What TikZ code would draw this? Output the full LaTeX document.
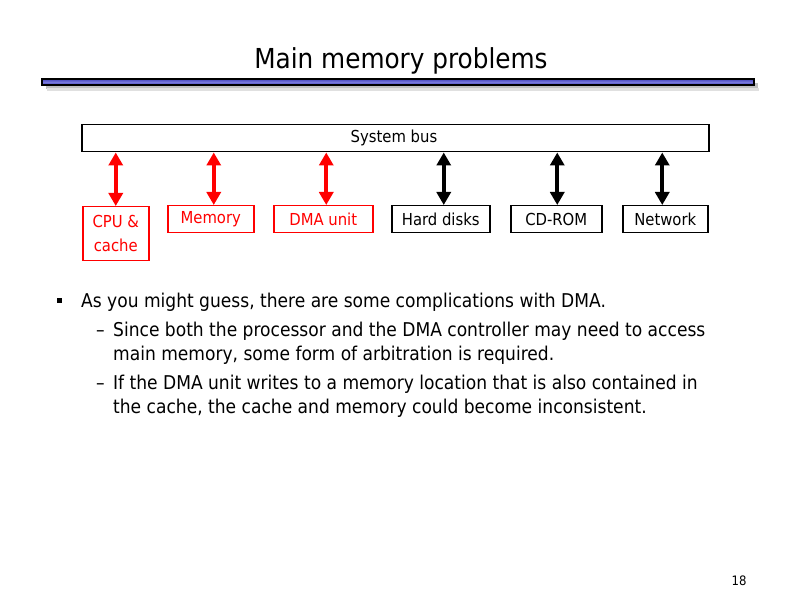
\documentclass[tikz,border=0pt]{standalone}
\usepackage{fontspec}
\setmainfont{DejaVu Sans Condensed}
\usetikzlibrary{arrows.meta,shadows}
\definecolor{barblue}{RGB}{70,70,190}
\definecolor{barlight}{RGB}{120,120,220}
\tikzset{
  dev/.style={draw=black,line width=1.5pt,inner sep=0pt,minimum height=27pt,font=\fontsize{16.5}{18}\selectfont,text=black},
  reddev/.style={dev,draw=red,text=red},
  busarrow/.style={line width=4pt,{Triangle[width=14pt,length=13pt]}-{Triangle[width=14pt,length=13pt]},draw=black},
  redarrow/.style={busarrow,draw=red},
  body/.style={anchor=base west,inner sep=0pt,font=\fontsize{19}{24}\selectfont}
}
\begin{document}
\begin{tikzpicture}[x=1pt,y=-1pt]
\useasboundingbox (0,0) rectangle (792,612);
% title
\node[font=\fontsize{27.5}{30}\selectfont,inner sep=0pt] (title) at (401,61) {Main memory problems};
% title bar with shadow
\fill[black!25] (46,83) rectangle (758,89);
\fill[black!12] (47,88) rectangle (759,91);
\draw[line width=1.2pt,top color=barblue,bottom color=barblue,middle color=barlight] (42,79) rectangle (754,85);
% bus
\node[dev,minimum width=627pt,anchor=north west] (bus) at (81,124) {\hspace*{0pt}};
\node[font=\fontsize{16.5}{18}\selectfont,inner sep=0pt] (buslbl) at (394,138) {System bus};
% devices
\node[reddev,minimum width=66pt,minimum height=54pt,anchor=north west,align=center,font=\fontsize{16.5}{24}\selectfont] (cpu) at (82,206) {CPU \&\\cache};
\node[reddev,minimum width=86pt,anchor=north west] (mem) at (167,205) {Memory};
\node[reddev,minimum width=99pt,anchor=north west] (dma) at (273,205) {DMA unit};
\node[dev,minimum width=98pt,anchor=north west] (hd) at (391,205) {Hard disks};
\node[dev,minimum width=91pt,anchor=north west] (cd) at (510,205) {CD-ROM};
\node[dev,minimum width=85pt,anchor=north west] (net) at (622,205) {Network};
% arrows
\draw[redarrow] (bus.south -| cpu.north) -- (cpu.north);
\draw[redarrow] ([xshift=3pt]bus.south -| mem.north) -- ([xshift=3pt]mem.north);
\draw[redarrow] ([xshift=3pt]bus.south -| dma.north) -- ([xshift=3pt]dma.north);
\draw[busarrow] ([xshift=3pt]bus.south -| hd.north) -- ([xshift=3pt]hd.north);
\draw[busarrow] ([xshift=1pt]bus.south -| cd.north) -- ([xshift=1pt]cd.north);
\draw[busarrow] ([xshift=-3pt]bus.south -| net.north) -- ([xshift=-3pt]net.north);
% text
\fill (57,298) rectangle (62,303);
\node[body] (t1) at (81,307) {As you might guess, there are some complications with DMA.};
\node[body] (d1) at (96,336) {\textendash};
\node[body] (t2) at (113,336) {Since both the processor and the DMA controller may need to access};
\node[body] (t3) at (113,360) {main memory, some form of arbitration is required.};
\node[body] (d2) at (96,389) {\textendash};
\node[body] (t4) at (113,389) {If the DMA unit writes to a memory location that is also contained in};
\node[body] (t5) at (113,413) {the cache, the cache and memory could become inconsistent.};
\node[font=\fontsize{13}{15}\selectfont,inner sep=0pt] (pg) at (739,581) {18};
\end{tikzpicture}
\end{document}
